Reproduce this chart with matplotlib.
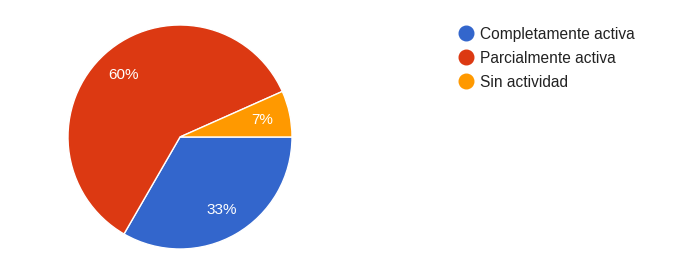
#!/usr/bin/env python3
"""Pie chart: activity status responses (Google Forms style)."""

import matplotlib
matplotlib.use("Agg")
import matplotlib.pyplot as plt
from matplotlib.lines import Line2D

LABELS = ["Completamente activa", "Parcialmente activa", "Sin actividad"]
COUNTS = [5, 9, 1]
COLORS = ["#3366CC", "#DC3912", "#FF9900"]

plt.rcParams["font.family"] = ["Liberation Sans", "DejaVu Sans"]


def main():
    fig = plt.figure(figsize=(6.93, 2.79), dpi=100)
    W, H = 693, 279
    # pie occupies a square of ~224 px centred at (180, 137)
    ax = fig.add_axes([68 / W, (H - 249) / H, 224 / W, 224 / H])
    wedges, texts, autotexts = ax.pie(
        COUNTS,
        colors=COLORS,
        startangle=0,
        counterclock=False,
        autopct="%1.0f%%",
        pctdistance=0.75,
        wedgeprops=dict(edgecolor="white", linewidth=1),
        textprops=dict(color="white", fontsize=11),
    )
    ax.set_xlim(-1, 1)
    ax.set_ylim(-1, 1)
    ax.set_aspect("equal")
    ax.axis("off")

    handles = [
        Line2D([], [], marker="o", linestyle="none", markersize=10.5,
               markerfacecolor=c, markeredgecolor=c)
        for c in COLORS
    ]
    fig.legend(
        handles, LABELS,
        loc="upper left",
        bbox_to_anchor=(452 / W, 1 - 19 / H),
        frameon=False,
        fontsize=11.2,
        handlelength=0.75,
        handletextpad=0.55,
        labelspacing=0.58,
        borderpad=0,
        labelcolor="#222222",
    )

    fig.savefig("out.png", dpi=100)


if __name__ == "__main__":
    main()
